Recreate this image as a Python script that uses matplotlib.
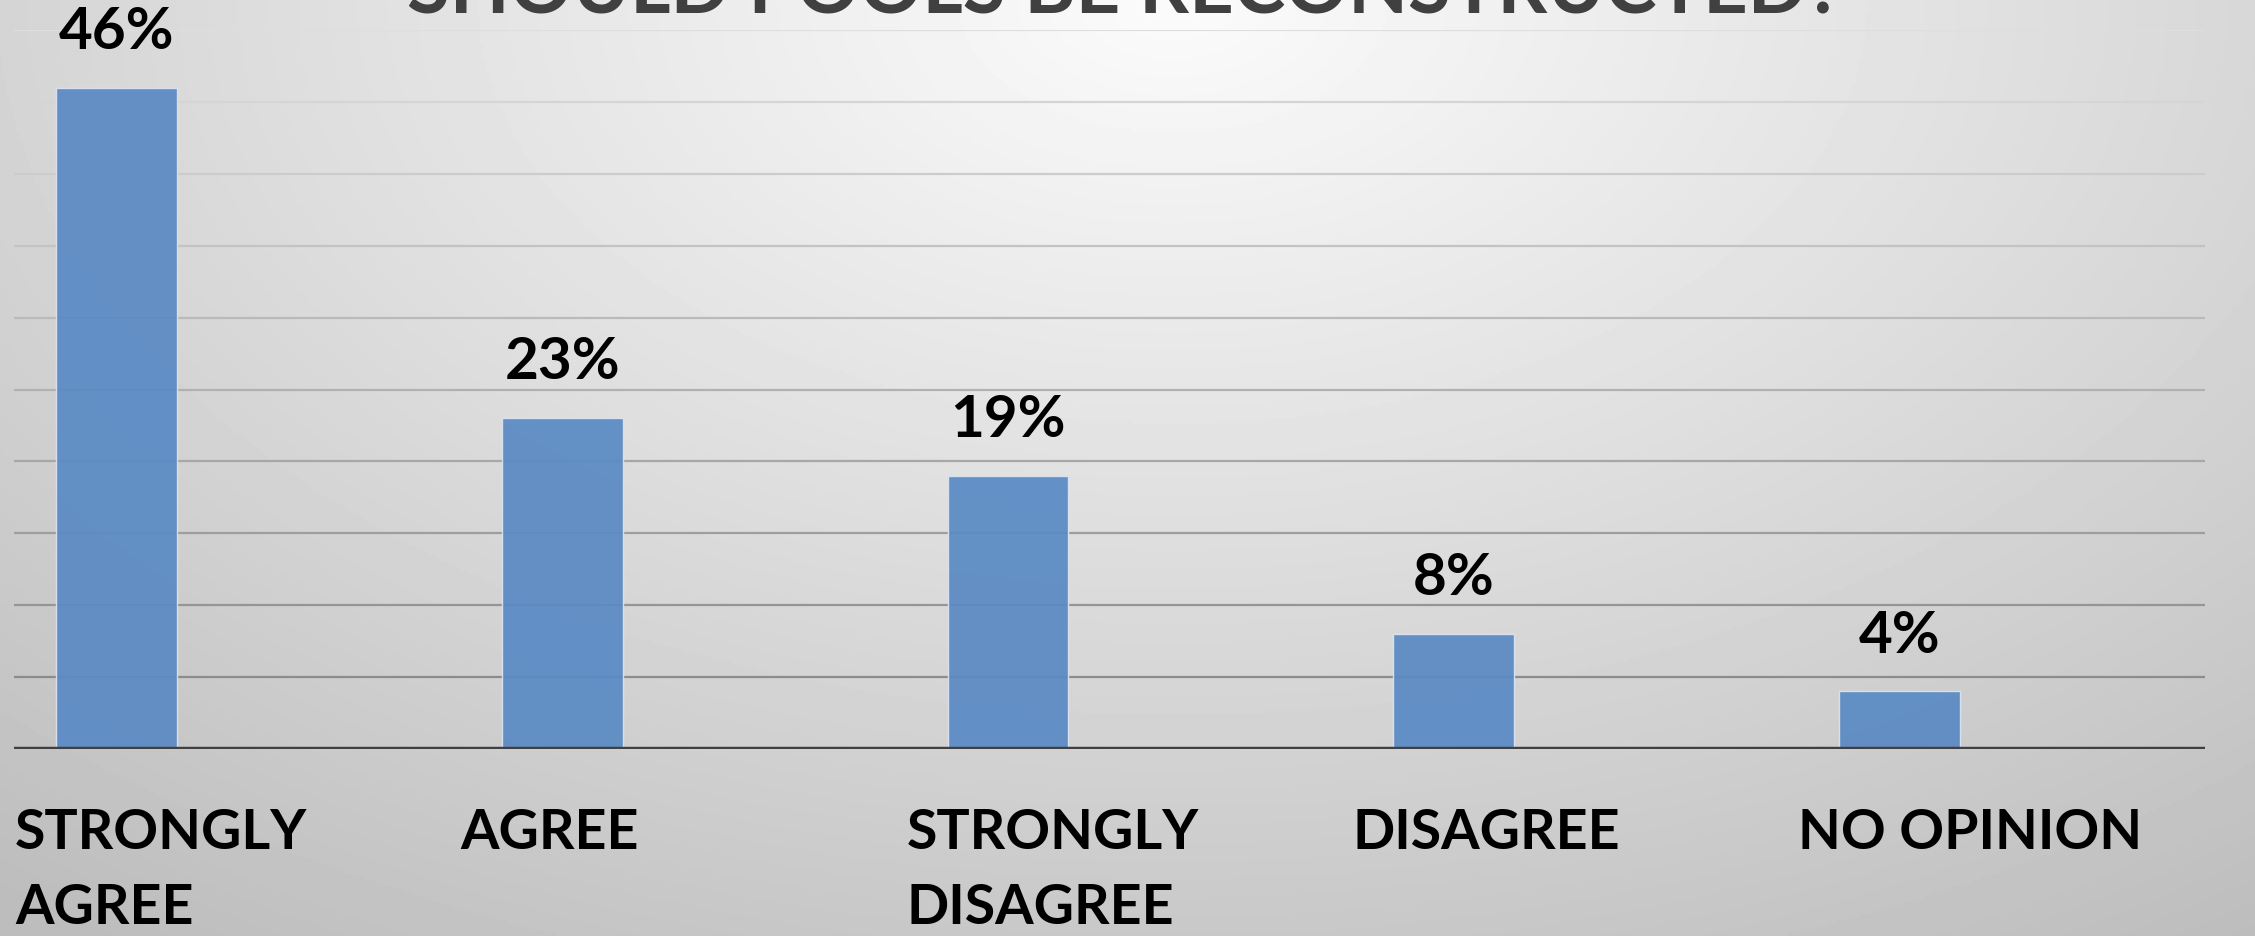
import numpy as np
import matplotlib.pyplot as plt

categories = ['STRONGLY\nAGREE', 'AGREE', 'STRONGLY\nDISAGREE', 'DISAGREE', 'NO OPINION']
percent = [46, 23, 19, 8, 4]
labels = ['46%', '23%', '19%', '8%', '4%']
grid_ticks = [5, 10, 15, 20, 25, 30, 35, 40, 45, 50]
title = 'SHOULD POOLS BE RECONSTRUCTED?'

plt.rcParams['font.family'] = ['Lato', 'DejaVu Sans']

fig = plt.figure(figsize=(22.55, 9.36), dpi=100)

# radial grey background
bg = fig.add_axes([0, 0, 1, 1])
yy, xx = np.mgrid[0:1:300j, 0:1:700j]
r = np.sqrt(((xx - 0.52) / 0.75) ** 2 + ((yy - 0.0) / 1.1) ** 2)
val = np.clip(0.985 - 0.22 * r, 0.74, 1.0)
bg.imshow(val, cmap='gray', vmin=0, vmax=1, extent=[0, 1, 0, 1], aspect='auto', origin='upper')
bg.set_axis_off()

ax = fig.add_axes([0.0062, 0.1998, 0.9716, 0.768])
ax.patch.set_alpha(0)
x = np.arange(len(categories))

n = len(grid_ticks)
for i, t in enumerate(grid_ticks):
    c = 0.55 + 0.32 * (i / (n - 1))
    ax.axhline(t, color=(c, c, c), lw=1.6, zorder=1)

ax.bar(x, percent, width=0.271, color='#5a8ac4', alpha=0.93,
       edgecolor='#dce4ef', linewidth=1.0, zorder=2)
ax.axhline(0, color='#404040', lw=3.2, zorder=3)

for xi, p, lab in zip(x, percent, labels):
    ax.text(xi, p + 2.7, lab, ha='center', va='baseline', fontsize=42,
            fontweight='bold', color='black', clip_on=False)

for xi, cat in zip(x, categories):
    ax.text(xi - 0.228, -4.1, cat, ha='left', va='top', fontsize=40,
            fontweight='bold', color='black', linespacing=1.6, clip_on=False)

ax.set_xlim(-0.23, 4.685)
ax.set_ylim(0, 50)
ax.set_axis_off()

# title sits mostly above the top edge, as in the original slide
fig.text(0.499, 1 - 13 / 936, title, ha='center', va='baseline', fontsize=56,
         fontweight='bold', color='#404040')

fig.savefig('out.png', dpi=100)
